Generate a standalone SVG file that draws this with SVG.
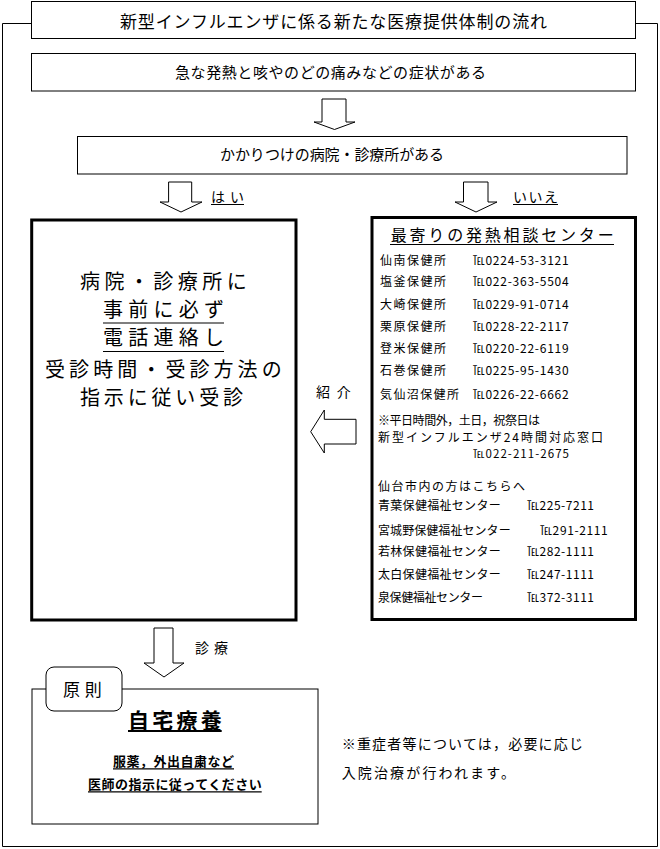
<svg xmlns="http://www.w3.org/2000/svg" width="660" height="849" viewBox="0 0 660 849">
<style>
  text { font-family: "Noto Sans CJK JP", "Noto Sans", sans-serif; fill: #000; }
  .box { fill: #fff; stroke: #000; stroke-width: 1; }
  .thick { fill: #fff; stroke: #000; stroke-width: 3; }
  .arrow { fill: #fff; stroke: #000; stroke-width: 1; stroke-linejoin: miter; }
  .ul { stroke: #000; stroke-width: 1.2; }
  .t17 { font-size: 17px; }
  .t15 { font-size: 15px; }
  .t14 { font-size: 14px; }
  .t12 { font-size: 12px; }
  .t20 { font-size: 20px; }
  .b { font-weight: bold; }
</style>
<rect x="0" y="0" width="660" height="849" fill="#fff"/>

<g id="frame">
  <path d="M31,23.5 H2.5 V846.5 H657.5 V23.5 H636" fill="none" stroke="#000" stroke-width="1"/>
</g>

<g id="title">
  <rect class="box" x="31.5" y="1.5" width="604" height="37"/>
  <text class="t17" x="120" y="27.8" textLength="427" lengthAdjust="spacing">新型インフルエンザに係る新たな医療提供体制の流れ</text>
</g>

<g id="symptom">
  <rect class="box" x="31.5" y="53.5" width="604" height="37.5"/>
  <text class="t15" x="175" y="78" textLength="311" lengthAdjust="spacing">急な発熱と咳やのどの痛みなどの症状がある</text>
</g>

<g id="clinic-question">
  <rect class="box" x="77.5" y="136.5" width="549.5" height="37.5"/>
  <text class="t15" x="220" y="160.4" textLength="224" lengthAdjust="spacing">かかりつけの病院・診療所がある</text>
</g>

<g id="contact-clinic">
  <rect class="thick" x="31.7" y="220" width="264.3" height="400"/>
  <text class="t20" x="80" y="289" textLength="166.7" lengthAdjust="spacing">病院・診療所に</text>
  <text class="t20" x="103" y="317" textLength="121" lengthAdjust="spacing">事前に必ず</text>
  <text class="t20" x="103" y="345" textLength="121" lengthAdjust="spacing">電話連絡し</text>
  <text class="t20" x="45" y="377" textLength="236.7" lengthAdjust="spacing">受診時間・受診方法の</text>
  <text class="t20" x="80" y="405" textLength="163" lengthAdjust="spacing">指示に従い受診</text>
  <line class="ul" x1="103" y1="323" x2="224" y2="323"/>
  <line class="ul" x1="103" y1="351.5" x2="224" y2="351.5"/>
</g>

<g id="fever-center">
  <rect class="thick" x="372" y="217.5" width="263.5" height="402"/>
  <text x="390.7" y="241" style="font-size:16px" textLength="223" lengthAdjust="spacing">最寄りの発熱相談センター</text>
  <line class="ul" x1="390" y1="244.5" x2="614" y2="244.5"/>
  <g class="t12">
    <text x="380" y="264.5" textLength="66" lengthAdjust="spacing">仙南保健所</text>
    <text x="472.7" y="264.5" textLength="96" lengthAdjust="spacing">℡0224-53-3121</text>
    <text x="380" y="286.2" textLength="66" lengthAdjust="spacing">塩釜保健所</text>
    <text x="472.7" y="286.2" textLength="96" lengthAdjust="spacing">℡022-363-5504</text>
    <text x="380" y="308.8" textLength="66" lengthAdjust="spacing">大崎保健所</text>
    <text x="472.7" y="308.8" textLength="96" lengthAdjust="spacing">℡0229-91-0714</text>
    <text x="380" y="330.5" textLength="66" lengthAdjust="spacing">栗原保健所</text>
    <text x="472.7" y="330.5" textLength="96" lengthAdjust="spacing">℡0228-22-2117</text>
    <text x="380" y="352.8" textLength="66" lengthAdjust="spacing">登米保健所</text>
    <text x="472.7" y="352.8" textLength="96" lengthAdjust="spacing">℡0220-22-6119</text>
    <text x="380" y="374.5" textLength="66" lengthAdjust="spacing">石巻保健所</text>
    <text x="472.7" y="374.5" textLength="96" lengthAdjust="spacing">℡0225-95-1430</text>
    <text x="380" y="398.8" textLength="79" lengthAdjust="spacing">気仙沼保健所</text>
    <text x="472.7" y="398.8" textLength="96" lengthAdjust="spacing">℡0226-22-6662</text>

    <text x="378" y="424.5" textLength="162" lengthAdjust="spacing">※平日時間外，土日，祝祭日は</text>
    <text x="378" y="442" textLength="225" lengthAdjust="spacing">新型インフルエンザ24時間対応窓口</text>
    <text x="473" y="457.5" style="font-size:11.5px" textLength="96" lengthAdjust="spacing">℡022-211-2675</text>

    <text x="378" y="490.5" textLength="147" lengthAdjust="spacing">仙台市内の方はこちらへ</text>
    <text x="378" y="509.5" textLength="122.7" lengthAdjust="spacing">青葉保健福祉センター</text>
    <text x="527" y="509.5" textLength="67" lengthAdjust="spacing">℡225-7211</text>
    <text x="378" y="535.2" textLength="132.7" lengthAdjust="spacing">宮城野保健福祉センター</text>
    <text x="540" y="535.2" textLength="67.7" lengthAdjust="spacing">℡291-2111</text>
    <text x="378" y="556.2" textLength="122.7" lengthAdjust="spacing">若林保健福祉センター</text>
    <text x="527" y="556.2" textLength="67" lengthAdjust="spacing">℡282-1111</text>
    <text x="378" y="578.5" textLength="122.7" lengthAdjust="spacing">太白保健福祉センター</text>
    <text x="527" y="578.5" textLength="67" lengthAdjust="spacing">℡247-1111</text>
    <text x="378" y="601.5" textLength="105" lengthAdjust="spacing">泉保健福祉センター</text>
    <text x="527" y="601.5" textLength="67" lengthAdjust="spacing">℡372-3111</text>
  </g>
</g>

<g id="home-care">
  <rect class="box" x="32" y="689" width="286" height="135"/>
  <text class="b" x="128" y="727.5" style="font-size:21px" textLength="93.7" lengthAdjust="spacing">自宅療養</text>
  <line x1="128" y1="731" x2="221.7" y2="731" stroke="#000" stroke-width="2"/>
  <text class="b" x="113" y="766" style="font-size:13px" textLength="121" lengthAdjust="spacing">服薬，外出自粛など</text>
  <line class="ul" x1="113" y1="768.8" x2="234" y2="768.8"/>
  <text class="b" x="88" y="788.7" style="font-size:13px" textLength="173.7" lengthAdjust="spacing">医師の指示に従ってください</text>
  <line class="ul" x1="88" y1="791.8" x2="261.7" y2="791.8"/>
</g>

<g id="principle-tab">
  <rect class="box" x="46" y="667" width="76" height="44" rx="8" ry="8"/>
  <text class="t17" x="63" y="696" textLength="38.7" lengthAdjust="spacing">原則</text>
</g>

<g id="note">
  <text class="t14" x="341.7" y="749" textLength="241.3" lengthAdjust="spacing">※重症者等については，必要に応じ</text>
  <text class="t14" x="341.7" y="777.7" textLength="173.3" lengthAdjust="spacing">入院治療が行われます。</text>
</g>

<g id="connectors">
  <polygon class="arrow" points="322,99 346,99 346,122 355,122 334.5,129.5 314,122 322,122"/>
  <polygon class="arrow" points="168.6,182 191.7,182 191.7,202 202,202 181,212 160,202 168.6,202"/>
  <polygon class="arrow" points="463.5,182 488,182 488,202 497,202 476,212 455,202 463.5,202"/>
  <polygon class="arrow" points="356,419.3 324.3,419.3 324.3,410 310.7,431.7 324.3,453 324.3,444 356,444 356,419.3"/>
  <polygon class="arrow" points="154,628 173,628 173,663 184,663 164,677 144,663 154,663"/>
  <text class="t14" x="211" y="201.5" textLength="33" lengthAdjust="spacing">はい</text>
  <line class="ul" x1="211" y1="204.5" x2="244" y2="204.5"/>
  <text class="t14" x="513" y="201.5" textLength="45" lengthAdjust="spacing">いいえ</text>
  <line class="ul" x1="513" y1="204.5" x2="558" y2="204.5"/>
  <text class="t14" x="316" y="396.7" textLength="34.7" lengthAdjust="spacing">紹介</text>
  <text class="t14" x="195" y="653" textLength="33" lengthAdjust="spacing">診療</text>
</g>
</svg>
